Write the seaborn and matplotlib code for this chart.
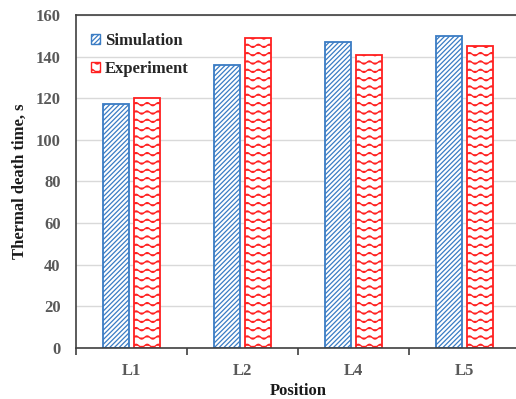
import numpy as np
import pandas as pd
import matplotlib
matplotlib.use("Agg")
import matplotlib.pyplot as plt
import matplotlib.hatch as mhatch
from matplotlib.path import Path
import seaborn as sns

categories = ["L1", "L2", "L4", "L5"]
simulation = [117, 136, 147, 150]
experiment = [120, 149, 141, 145]
series_names = ["Simulation", "Experiment"]


class WavyHatch(mhatch.HatchPatternBase):
    """Custom wavy hatch triggered by '~'."""
    def __init__(self, hatch, density):
        self.num_lines = int(hatch.count('~') * density)
        self.n_seg = 96
        self.waves = 9
        self.amp = 0.016
        self.num_vertices = self.num_lines * (self.n_seg + 1) if self.num_lines else 0
        self.filled = False

    def set_vertices_and_codes(self, vertices, codes):
        if not self.num_lines:
            return
        steps, stepsize = np.linspace(0.0, 1.0, self.num_lines, endpoint=False, retstep=True)
        x = np.linspace(0.0, 1.0, self.n_seg + 1)
        n = self.n_seg + 1
        for i, s in enumerate(steps):
            y = s + stepsize / 2 + self.amp * np.sin(2 * np.pi * self.waves * x)
            vertices[i * n:(i + 1) * n, 0] = x
            vertices[i * n:(i + 1) * n, 1] = y
            codes[i * n] = Path.MOVETO
            codes[i * n + 1:(i + 1) * n] = Path.LINETO


if WavyHatch not in mhatch._hatch_types:
    mhatch._hatch_types.append(WavyHatch)

df = pd.DataFrame({
    "Position": categories * 2,
    "Time": simulation + experiment,
    "Series": [series_names[0]] * len(categories) + [series_names[1]] * len(categories),
})

sns.set_style("white")
plt.rcParams['font.family'] = ['Liberation Serif', 'DejaVu Serif']
plt.rcParams['hatch.linewidth'] = 0.9

fig = plt.figure(figsize=(5.16, 3.99), dpi=100)
ax = fig.add_axes([76 / 516, 1 - 348 / 399, 444 / 516, 333 / 399])

edge_colors = ["#3a7cc4", "#ff2020"]
hatches = ["///////", "~~"]

sns.barplot(data=df, x="Position", y="Time", hue="Series", order=categories,
            hue_order=series_names, width=0.56, gap=0.18, ax=ax,
            palette=["white", "white"], saturation=1, legend=True)

for cont, ec, h in zip(ax.containers, edge_colors, hatches):
    for bar in cont:
        bar.set_facecolor("white")
        bar.set_edgecolor(ec)
        bar.set_hatch(h)
        bar.set_linewidth(1.3)

ax.set_ylim(0, 160)
ax.set_xlim(-0.5, 3.5)
ax.set_yticks(np.arange(0, 161, 20))
ax.yaxis.grid(True, color="#d9d9d9", linewidth=1.0)
ax.set_axisbelow(True)

for side in ["left", "bottom", "top"]:
    ax.spines[side].set_visible(True)
    ax.spines[side].set_color("#404040")
    ax.spines[side].set_linewidth(1.2)
ax.spines["right"].set_visible(False)

ax.set_xticks([0.5 + i for i in range(-1, 3)], minor=True)
ax.tick_params(axis="x", which="minor", length=5, width=1.2, color="#404040", direction="out", bottom=True)
ax.tick_params(axis="x", which="major", length=0, pad=11, labelsize=12, labelcolor="#595959")
ax.tick_params(axis="y", length=0, pad=11, labelsize=12, labelcolor="#595959")
for lab in ax.get_xticklabels() + ax.get_yticklabels():
    lab.set_fontweight("bold")

ax.set_xlabel("Position", fontsize=12, fontweight="bold", color="#1a1a1a", labelpad=3)
ax.set_ylabel("Thermal death time, s", fontsize=12, fontweight="bold", color="#1a1a1a", labelpad=6)

handles, labels = ax.get_legend_handles_labels()
for hd, ec, h in zip(handles, edge_colors, hatches):
    hd.set_facecolor("white")
    hd.set_edgecolor(ec)
    hd.set_hatch(h)
ax.legend(handles, labels, loc="upper left", bbox_to_anchor=(0.0, 0.992), frameon=False,
          handlelength=0.55, handleheight=0.55, handletextpad=0.3, labelspacing=0.72,
          prop={"weight": "bold", "size": 12})

fig.savefig("out.png", dpi=100)
